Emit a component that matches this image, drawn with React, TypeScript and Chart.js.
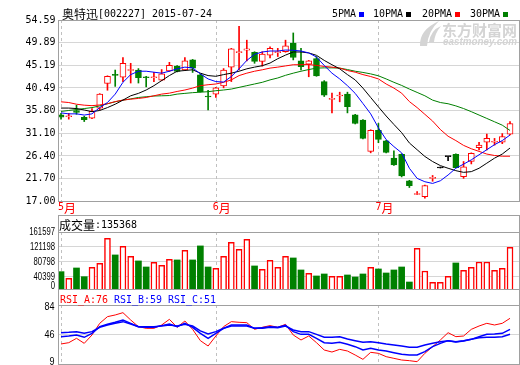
import React, { useEffect, useRef } from 'react';
import { Chart, registerables } from 'chart.js';
Chart.register(...registerables);

// ---------------- data ----------------
const titleText = '奥特迅[002227] 2015-07-24';
const monthLabels = ['5月', '6月', '7月'];
const monthStartIdx = [0, 20, 41];
const priceTicks = [17.0, 21.7, 26.4, 31.1, 35.8, 40.49, 45.19, 49.89, 54.59];
const volumeTicks = [40399, 80798, 121198, 161597];
const volumeLabels = [0, 40399, 80798, 121198, 161597];
const rsiTicks = [46];
const rsiLabels = [9, 46, 84];
const volumeHeader = '成交量:135368';
const rsiHeader = [
  { text: 'RSI_A:76', color: '#ff0000' },
  { text: 'RSI_B:59', color: '#0000ff' },
  { text: 'RSI_C:51', color: '#0000ff' },
];
const maNames = ['5PMA', '10PMA', '20PMA', '30PMA'];

const opens = [34.9, 34.5, 35.8, 34.4, 34.2, 36.3, 41.4, 43.3, 42.7, 44.1, 44.2, 42.8, 42.6, 42.1, 44.0, 45.0, 44.2, 46.3, 43.2, 38.8, 39.2, 40.9, 44.8, 47.8, 48.3, 47.9, 46.0, 47.3, 47.8, 48.0, 49.8, 46.1, 45.4, 46.6, 41.8, 38.1, 38.8, 39.2, 34.9, 33.8, 27.3, 31.7, 29.5, 25.9, 26.7, 21.2, 18.35, 17.9, 21.7, 23.85, 26.2, 26.7, 22.05, 25.2, 28.1, 29.2, 29.2, 29.2, 30.9];
const highs = [35.2, 35.2, 36.9, 34.6, 36.2, 39.3, 43.0, 44.2, 46.8, 45.6, 44.5, 42.9, 43.7, 44.3, 45.8, 45.1, 46.8, 46.4, 43.4, 40.0, 40.6, 44.5, 48.7, 53.3, 50.4, 48.0, 48.0, 49.0, 48.7, 50.4, 51.9, 48.7, 46.2, 47.0, 42.0, 39.4, 39.6, 39.6, 35.0, 33.9, 31.8, 33.1, 29.6, 27.4, 26.8, 21.3, 18.95, 20.3, 22.3, 23.85, 26.2, 26.8, 25.2, 27.0, 29.2, 30.9, 30.0, 31.0, 33.5];
const lows = [34.0, 34.0, 35.0, 33.5, 34.1, 35.9, 40.0, 40.8, 41.8, 41.5, 41.5, 40.7, 41.8, 42.0, 43.9, 43.8, 44.1, 43.7, 39.6, 35.9, 38.5, 40.5, 41.8, 44.2, 46.1, 45.6, 45.0, 46.7, 47.0, 47.9, 46.3, 44.2, 42.8, 42.9, 38.7, 35.3, 37.6, 35.3, 33.0, 29.9, 27.0, 29.1, 27.0, 24.4, 22.0, 19.8, 18.3, 17.6, 21.1, 23.85, 25.4, 23.9, 21.7, 24.7, 27.6, 27.6, 28.6, 28.9, 30.7];
const closes = [34.4, 34.55, 35.4, 33.9, 35.6, 39.2, 42.9, 43.1, 45.6, 44.2, 42.6, 42.6, 42.7, 43.4, 45.2, 43.9, 46.1, 44.6, 39.7, 38.6, 40.5, 44.2, 48.6, 47.9, 48.6, 46.0, 47.5, 48.7, 47.9, 49.2, 46.8, 44.9, 46.1, 43.0, 39.0, 38.2, 38.9, 36.6, 33.1, 30.0, 31.7, 29.8, 27.1, 24.5, 22.2, 20.2, 18.5, 20.2, 21.8, 23.85, 26.2, 23.9, 24.1, 26.9, 28.6, 30.0, 29.3, 30.4, 33.1];

const volumes = [53900, 35900, 63900, 40300, 65800, 76700, 144700, 99300, 122900, 95700, 83000, 66600, 79400, 71300, 87600, 85700, 112100, 85700, 123800, 66600, 63100, 95700, 133800, 114800, 142000, 69400, 60400, 84900, 65800, 95700, 91100, 58500, 49500, 42200, 47600, 41300, 41300, 44900, 39400, 47600, 65800, 61200, 50300, 58500, 66600, 25800, 117500, 55800, 25000, 25000, 41300, 77500, 57700, 65800, 80200, 80200, 57700, 63100, 120200];

const ma5 = [35.3, 35.1, 35.1, 34.85, 35.1, 36.4, 37.45, 39.2, 41.65, 43.25, 43.95, 43.95, 43.75, 43.55, 43.95, 44.45, 44.8, 44.65, 43.4, 42.35, 41.8, 41.7, 42.85, 44.45, 46.2, 47.45, 47.95, 48.15, 48.15, 48.35, 48.3, 48.15, 47.75, 46.9, 45.15, 43.55, 42.35, 40.95, 39.35, 37.25, 35.1, 32.2, 29.75, 28.3, 27.0, 23.8, 21.7, 21.0, 20.65, 21.2, 22.4, 23.8, 24.65, 25.55, 26.6, 27.65, 28.7, 29.55, 30.7];
const ma10 = [36.3, 36.3, 36.2, 35.9, 35.55, 35.8, 36.4, 37.1, 37.95, 38.85, 39.35, 40.05, 40.95, 42.0, 43.05, 43.95, 44.1, 44.25, 43.55, 43.05, 42.9, 43.25, 43.55, 43.95, 44.45, 44.8, 45.1, 45.65, 46.55, 47.3, 47.95, 47.95, 47.75, 47.25, 46.2, 45.3, 44.45, 43.25, 42.15, 40.45, 38.5, 36.55, 34.65, 32.9, 31.2, 29.05, 27.65, 26.25, 25.2, 24.35, 23.8, 23.3, 22.95, 23.1, 23.8, 24.85, 25.9, 26.75, 28.0];
const ma20 = [37.6, 37.45, 37.1, 36.9, 36.8, 36.95, 37.2, 37.65, 37.95, 38.15, 38.3, 38.5, 38.85, 39.2, 39.4, 39.75, 40.05, 40.45, 40.95, 41.15, 41.3, 41.65, 42.15, 43.05, 43.55, 43.95, 44.25, 44.6, 44.8, 45.05, 45.3, 45.3, 45.35, 45.15, 44.95, 44.8, 44.6, 44.1, 43.75, 43.25, 42.85, 42.35, 41.3, 40.45, 39.4, 37.65, 36.4, 35.0, 33.6, 31.85, 30.45, 29.55, 28.55, 27.85, 27.3, 26.75, 26.45, 26.3, 26.3];
const ma30 = [35.6, 35.8, 36.0, 36.2, 36.4, 36.75, 37.2, 37.6, 37.95, 38.2, 38.5, 38.65, 38.8, 38.85, 38.9, 39.2, 39.35, 39.5, 39.6, 39.7, 39.9, 40.05, 40.25, 40.6, 40.95, 41.3, 41.65, 42.15, 42.55, 43.1, 43.55, 43.95, 44.3, 44.6, 44.65, 44.65, 44.6, 44.3, 43.95, 43.7, 43.4, 43.0, 42.35, 41.65, 41.0, 40.25, 39.55, 38.85, 37.95, 37.45, 37.2, 36.75, 36.2, 35.55, 34.85, 34.15, 33.45, 32.75, 31.65];

const rsiA = [33.4, 35.2, 41.2, 34.3, 45.8, 61.9, 71.1, 73.4, 76.6, 66.5, 57.3, 55.0, 55.0, 59.6, 67.4, 56.4, 65.1, 53.6, 38.0, 30.6, 44.4, 57.3, 64.2, 63.3, 62.8, 53.6, 56.4, 58.7, 56.4, 60.5, 45.8, 38.9, 44.4, 35.2, 25.1, 22.3, 26.0, 23.7, 18.2, 12.2, 21.9, 20.5, 15.9, 13.6, 11.3, 10.4, 9.0, 20.5, 29.7, 38.9, 49.0, 43.5, 44.4, 53.6, 58.2, 61.9, 59.6, 61.9, 68.8];
const rsiB = [43.5, 44.4, 45.8, 42.6, 48.1, 57.3, 60.5, 63.3, 66.5, 61.9, 57.3, 56.4, 56.4, 58.7, 61.0, 57.3, 61.9, 56.4, 48.1, 41.2, 48.1, 55.0, 59.6, 59.6, 59.6, 55.0, 55.9, 57.3, 56.4, 59.1, 50.4, 46.7, 46.7, 41.2, 35.2, 34.3, 35.7, 32.9, 29.7, 25.1, 27.4, 25.1, 23.7, 21.4, 19.1, 18.2, 18.2, 22.8, 29.7, 34.3, 38.0, 36.1, 37.5, 39.8, 43.5, 46.7, 47.2, 48.1, 53.6];
const rsiC = [49.0, 49.5, 50.4, 48.1, 50.4, 56.4, 59.6, 61.9, 64.2, 61.0, 57.3, 57.3, 57.3, 58.2, 59.6, 58.2, 60.5, 58.2, 51.4, 47.2, 50.4, 55.0, 58.2, 58.2, 58.2, 55.0, 55.0, 56.4, 55.9, 58.2, 52.7, 50.4, 50.4, 46.7, 42.6, 42.6, 43.5, 40.3, 38.0, 35.7, 36.6, 35.2, 33.4, 32.0, 30.6, 28.8, 28.8, 32.0, 34.3, 36.6, 38.0, 36.6, 38.0, 39.8, 42.1, 42.6, 42.6, 43.5, 46.7];

// ---------------- styles ----------------
const RED = '#ff0000';
const GREEN = '#008000';
const BLUE = '#0000ff';
const BLACK = '#000000';
const GRID = '#d6d6d6';
const FRAME = '#a0a0a0';
const DASH = '#c0c0c0';
const ASCII_FONT = "11px 'DejaVu Sans Mono'";
const ASCII_SX = 0.906;
const CJK_FONT = "12px 'Noto Sans CJK SC'";
const NUM_FONT = "11px 'Liberation Sans'";
const X_MIN = -0.39;
const X_MAX = 59.16;

const idx = closes.map((_, i) => i);
const candleColor = (i: number) =>
  closes[i] > opens[i] ? RED : closes[i] < opens[i] ? GREEN : BLACK;
const volColor = (i: number) => {
  if (closes[i] > opens[i]) return RED;
  if (closes[i] < opens[i]) return GREEN;
  return i > 0 && closes[i] >= closes[i - 1] ? RED : GREEN;
};

// ---------------- drawing helpers ----------------
function drawAscii(ctx: CanvasRenderingContext2D, s: string, x: number, y: number, color: string, align: CanvasTextAlign = 'left', font = ASCII_FONT, sx = ASCII_SX) {
  ctx.save();
  ctx.font = font;
  ctx.fillStyle = color;
  ctx.textBaseline = 'middle';
  ctx.textAlign = align;
  ctx.translate(x, y);
  ctx.scale(sx, 1);
  ctx.fillText(s, 0, 0);
  ctx.restore();
}

function drawMixed(ctx: CanvasRenderingContext2D, text: string, x: number, y: number, color: string) {
  const runs: { s: string; cjk: boolean }[] = [];
  for (const ch of text) {
    const cjk = /[\u2e80-\u9fff\uff00-\uffef]/.test(ch);
    const last = runs[runs.length - 1];
    if (last && last.cjk === cjk) last.s += ch;
    else runs.push({ s: ch, cjk });
  }
  ctx.save();
  ctx.fillStyle = color;
  ctx.textBaseline = 'middle';
  ctx.textAlign = 'left';
  let cx = x;
  for (const r of runs) {
    if (r.cjk) {
      ctx.font = CJK_FONT;
      ctx.fillText(r.s, cx, y + 0.5);
      cx += ctx.measureText(r.s).width;
    } else {
      ctx.font = ASCII_FONT;
      const w = ctx.measureText(r.s).width * ASCII_SX;
      ctx.save();
      ctx.translate(cx, y);
      ctx.scale(ASCII_SX, 1);
      ctx.fillText(r.s, 0, 0);
      ctx.restore();
      cx += w;
    }
  }
  ctx.restore();
  return cx;
}

function hline(ctx: CanvasRenderingContext2D, x1: number, x2: number, y: number, color: string) {
  ctx.save();
  ctx.strokeStyle = color;
  ctx.lineWidth = 1;
  ctx.beginPath();
  const yy = Math.round(y) + 0.5;
  ctx.moveTo(x1, yy);
  ctx.lineTo(x2, yy);
  ctx.stroke();
  ctx.restore();
}

function vline(ctx: CanvasRenderingContext2D, x: number, y1: number, y2: number, color: string, dash: number[] = []) {
  ctx.save();
  ctx.strokeStyle = color;
  ctx.lineWidth = 1;
  ctx.setLineDash(dash);
  ctx.beginPath();
  const xx = Math.round(x) + 0.5;
  ctx.moveTo(xx, y1);
  ctx.lineTo(xx, y2);
  ctx.stroke();
  ctx.restore();
}

function monthDashes(chart: any) {
  const { ctx, chartArea: a } = chart;
  const xs = chart.scales.x;
  monthStartIdx.forEach((m) => vline(ctx, xs.getPixelForValue(m), a.top, a.bottom, DASH, [3, 3]));
}

function drawWatermark(ctx: CanvasRenderingContext2D) {
  ctx.save();
  ctx.fillStyle = '#d4d4d4';
  ctx.beginPath();
  ctx.moveTo(420, 46);
  ctx.quadraticCurveTo(419, 30, 439, 21);
  ctx.quadraticCurveTo(428, 31, 427, 46);
  ctx.closePath();
  ctx.fill();
  ctx.beginPath();
  ctx.moveTo(429, 42);
  ctx.quadraticCurveTo(431, 30, 441, 26);
  ctx.quadraticCurveTo(435, 33, 434, 42);
  ctx.closePath();
  ctx.fill();
  ctx.font = "bold 15px 'Noto Sans CJK SC'";
  ctx.textBaseline = 'middle';
  ctx.fillText('东方财富网', 442, 30.5);
  ctx.font = "bold italic 10px 'Liberation Sans'";
  const w = ctx.measureText('eastmoney.com').width;
  ctx.translate(443, 42.5);
  ctx.scale(74 / w, 1);
  ctx.fillText('eastmoney.com', 0, 0);
  ctx.restore();
}

const xScale = {
  type: 'linear' as const,
  min: X_MIN,
  max: X_MAX,
  offset: false,
  display: false,
  grid: { display: false },
};

const yBase = (min: number, max: number, ticks: number[]) => ({
  type: 'linear' as const,
  position: 'left' as const,
  min,
  max,
  afterBuildTicks: (s: any) => {
    s.ticks = ticks.map((v) => ({ value: v }));
  },
  afterFit: (s: any) => {
    s.width = 58;
  },
  ticks: { display: false },
  grid: { color: GRID, lineWidth: 1, drawTicks: false },
  border: { display: false },
});

const commonOpts = {
  responsive: false,
  maintainAspectRatio: false,
  animation: false as const,
  devicePixelRatio: 1,
  events: [] as any[],
  plugins: { legend: { display: false }, tooltip: { enabled: false }, title: { display: false } },
};

// ---------------- configs ----------------
function priceConfig(): any {
  const line = (data: number[], color: string, order: number) => ({
    type: 'line',
    data: data.map((y, i) => ({ x: i, y })),
    borderColor: color,
    borderWidth: 1,
    pointRadius: 0,
    tension: 0,
    fill: false,
    order,
  });
  return {
    type: 'bar',
    data: {
      datasets: [
        {
          type: 'bar',
          data: idx.map((i) => ({ x: i, y: [lows[i], highs[i]] })),
          backgroundColor: idx.map(candleColor),
          borderWidth: 0,
          barThickness: 1,
          minBarLength: 1,
          grouped: false,
          order: 10,
        },
        {
          type: 'bar',
          data: idx.map((i) => ({ x: i, y: [opens[i], closes[i]] })),
          backgroundColor: idx.map((i) => (candleColor(i) === RED ? '#ffffff' : candleColor(i))),
          borderColor: idx.map(candleColor),
          borderWidth: 1,
          borderSkipped: false,
          barThickness: 6,
          minBarLength: 1,
          grouped: false,
          order: 9,
        },
        line(ma30, GREEN, 4),
        line(ma20, RED, 3),
        line(ma10, BLACK, 2),
        line(ma5, BLUE, 1),
      ],
    },
    options: {
      ...commonOpts,
      layout: { padding: { left: 0, right: 1, top: 20, bottom: 14 } },
      scales: { x: xScale, y: yBase(17, 54.59, priceTicks) },
    },
    plugins: [
      {
        id: 'priceDecor',
        beforeDatasetsDraw(chart: any) {
          drawWatermark(chart.ctx);
          monthDashes(chart);
        },
        afterDraw(chart: any) {
          const { ctx, chartArea: a } = chart;
          const ys = chart.scales.y;
          const xs = chart.scales.x;
          hline(ctx, a.left, 520, a.top, FRAME);
          hline(ctx, a.left, 520, a.bottom, FRAME);
          vline(ctx, a.left, a.top, a.bottom + 1, FRAME);
          vline(ctx, a.right, a.top, a.bottom + 1, FRAME);
          priceTicks.forEach((v) => drawAscii(ctx, v.toFixed(2), 55.5, ys.getPixelForValue(v), BLACK, 'right'));
          drawMixed(ctx, titleText, 62, 13.7, BLACK);
          const legendColors = [BLUE, BLACK, RED, GREEN];
          const legendX = [332, 373, 422, 470];
          maNames.forEach((n, k) => {
            const end = drawMixed(ctx, n, legendX[k], 13.7, BLACK);
            ctx.fillStyle = legendColors[k];
            ctx.fillRect(Math.round(end + 3), 12, 5, 5);
          });
          monthStartIdx.forEach((m, k) => drawMixed(ctx, monthLabels[k], xs.getPixelForValue(m) - 3, 207.5, RED));
        },
      },
    ],
  };
}

function volumeConfig(): any {
  return {
    type: 'bar',
    data: {
      datasets: [
        {
          type: 'bar',
          data: idx.map((i) => ({ x: i, y: volumes[i] })),
          backgroundColor: idx.map((i) => (volColor(i) === RED ? '#ffffff' : GREEN)),
          borderColor: idx.map(volColor),
          borderWidth: idx.map((i) => (volColor(i) === RED ? 1.5 : 0)),
          borderSkipped: false,
          barThickness: 6,
          grouped: false,
        },
      ],
    },
    options: {
      ...commonOpts,
      layout: { padding: { left: 0, right: 1, top: 17, bottom: 1 } },
      scales: { x: xScale, y: yBase(6800, 161597, volumeTicks) },
    },
    plugins: [
      {
        id: 'volDecor',
        beforeDatasetsDraw(chart: any) {
          monthDashes(chart);
        },
        afterDraw(chart: any) {
          const { ctx, chartArea: a } = chart;
          const ys = chart.scales.y;
          hline(ctx, a.left, 520, 0, FRAME);
          hline(ctx, a.left, 520, a.top, FRAME);
          hline(ctx, a.left, 520, a.bottom, FRAME);
          vline(ctx, a.left, 0, a.bottom + 1, FRAME);
          vline(ctx, a.right, 0, a.bottom + 1, FRAME);
          volumeLabels.forEach((v) => {
            const y = Math.min(ys.getPixelForValue(v), a.bottom - 3);
            drawAscii(ctx, String(v), 55, y, BLACK, 'right', NUM_FONT, 0.7);
          });
          drawMixed(ctx, volumeHeader, 59, 10.3, BLACK);
        },
      },
    ],
  };
}

function rsiConfig(): any {
  const line = (data: number[], color: string, w: number) => ({
    type: 'line',
    data: data.map((y, i) => ({ x: i, y })),
    borderColor: color,
    borderWidth: w,
    pointRadius: 0,
    tension: 0,
    fill: false,
  });
  return {
    type: 'line',
    data: { datasets: [line(rsiC, BLUE, 1.5), line(rsiB, BLUE, 1.5), line(rsiA, RED, 1)] },
    options: {
      ...commonOpts,
      layout: { padding: { left: 0, right: 1, top: 15, bottom: 1 } },
      scales: { x: xScale, y: yBase(5.79, 87.17, rsiTicks) },
    },
    plugins: [
      {
        id: 'rsiDecor',
        beforeDatasetsDraw(chart: any) {
          monthDashes(chart);
        },
        afterDraw(chart: any) {
          const { ctx, chartArea: a } = chart;
          const ys = chart.scales.y;
          hline(ctx, a.left, 520, a.top, FRAME);
          hline(ctx, a.left, 520, a.bottom, FRAME);
          vline(ctx, a.left, 0, a.bottom + 1, FRAME);
          vline(ctx, a.right, 0, a.bottom + 1, FRAME);
          rsiLabels.forEach((v) => drawAscii(ctx, String(v), 54.5, ys.getPixelForValue(v), BLACK, 'right', NUM_FONT, 0.82));
          let x = 60;
          rsiHeader.forEach((h) => {
            x = drawMixed(ctx, h.text, x, 10, h.color) + 6;
          });
        },
      },
    ],
  };
}

export default function App() {
  const priceRef = useRef<HTMLCanvasElement>(null);
  const volRef = useRef<HTMLCanvasElement>(null);
  const rsiRef = useRef<HTMLCanvasElement>(null);

  useEffect(() => {
    const charts = [
      new Chart(priceRef.current as HTMLCanvasElement, priceConfig()),
      new Chart(volRef.current as HTMLCanvasElement, volumeConfig()),
      new Chart(rsiRef.current as HTMLCanvasElement, rsiConfig()),
    ];
    return () => charts.forEach((c) => c.destroy());
  }, []);

  return (
    <div style={{ position: 'absolute', left: 0, top: 0, width: 520, height: 365, background: '#ffffff', overflow: 'hidden' }}>
      <canvas ref={priceRef} width={520} height={215} style={{ position: 'absolute', left: 0, top: 0, width: 520, height: 215 }} />
      <canvas ref={volRef} width={520} height={75} style={{ position: 'absolute', left: 0, top: 215, width: 520, height: 75 }} />
      <canvas ref={rsiRef} width={520} height={75} style={{ position: 'absolute', left: 0, top: 290, width: 520, height: 75 }} />
    </div>
  );
}
